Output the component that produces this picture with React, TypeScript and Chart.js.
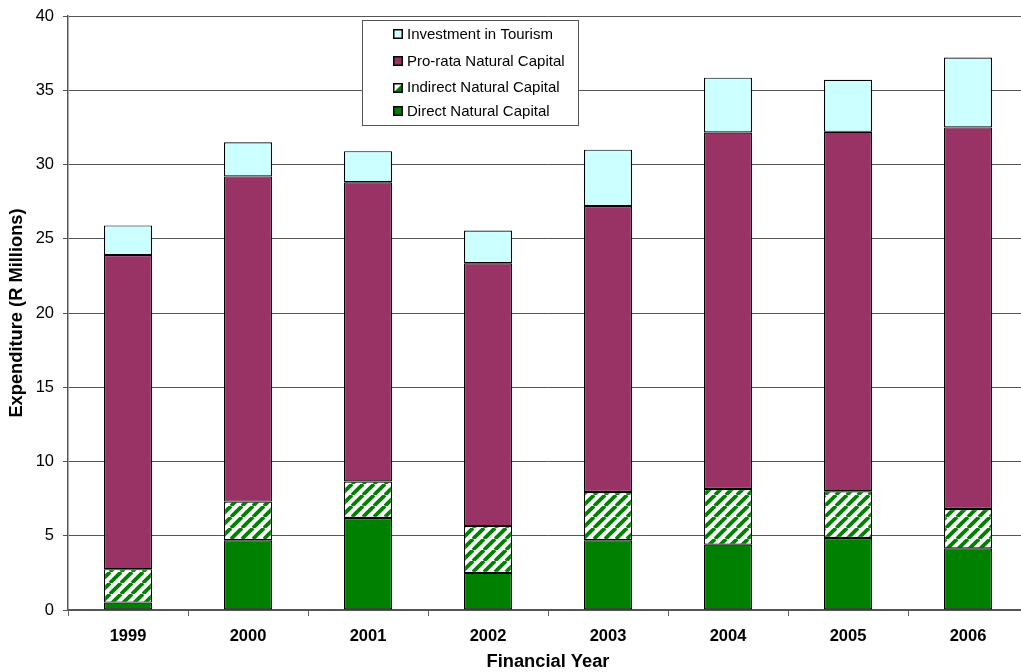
import React, { useEffect, useRef } from "react";
import { Chart, registerables } from "chart.js";

Chart.register(...registerables);

const years = ["1999", "2000", "2001", "2002", "2003", "2004", "2005", "2006"];
const directNatural = [0.5, 4.7, 6.2, 2.5, 4.7, 4.4, 4.85, 4.15];
const indirectNatural = [2.25, 2.6, 2.45, 3.15, 3.25, 3.75, 3.15, 2.65];
const proRataNatural = [21.15, 21.9, 20.15, 17.7, 19.25, 24.0, 24.2, 25.7];
const tourismInvestment = [2.0, 2.3, 2.1, 2.2, 3.8, 3.7, 3.5, 4.7];
const yTicks = [0, 5, 10, 15, 20, 25, 30, 35, 40];

const GREEN = "#008000";
const PLUM = "#993366";
const CYAN = "#CCFFFF";
const FONT = "'Liberation Sans', Arial, sans-serif";

function makeHatch(): CanvasPattern | string {
  const s = 11;
  const c = document.createElement("canvas");
  c.width = s;
  c.height = s;
  const ctx = c.getContext("2d");
  if (!ctx) return GREEN;
  ctx.fillStyle = "#ffffff";
  ctx.fillRect(0, 0, s, s);
  ctx.strokeStyle = GREEN;
  ctx.lineWidth = 3.8;
  for (const x0 of [-s, 0, s]) {
    ctx.beginPath();
    ctx.moveTo(x0, s);
    ctx.lineTo(x0 + s, 0);
    ctx.stroke();
  }
  const p = ctx.createPattern(c, "repeat");
  return p || GREEN;
}

const legendItems = [
  { label: "Investment in Tourism", kind: "cyan" },
  { label: "Pro-rata Natural Capital", kind: "plum" },
  { label: "Indirect Natural Capital", kind: "hatch" },
  { label: "Direct Natural Capital", kind: "green" },
];

const legendPlugin = {
  id: "boxLegend",
  afterDraw(chart: any) {
    const ctx = chart.ctx as CanvasRenderingContext2D;
    ctx.save();
    const bx = 362.5, by = 20.5, bw = 216, bh = 105;
    ctx.fillStyle = "#ffffff";
    ctx.fillRect(bx, by, bw, bh);
    ctx.strokeStyle = "#555555";
    ctx.lineWidth = 1;
    ctx.strokeRect(bx, by, bw, bh);
    const rows = [34, 61, 87.5, 111];
    ctx.font = `15px ${FONT}`;
    ctx.textBaseline = "middle";
    ctx.textAlign = "left";
    legendItems.forEach((it, i) => {
      const cy = rows[i];
      const mx = 393, my = Math.round(cy - 5), ms = 10;
      if (it.kind === "hatch") {
        ctx.fillStyle = "#ffffff";
        ctx.fillRect(mx, my, ms, ms);
        ctx.fillStyle = GREEN;
        ctx.beginPath();
        ctx.moveTo(mx + ms, my);
        ctx.lineTo(mx + ms, my + ms);
        ctx.lineTo(mx, my + ms);
        ctx.closePath();
        ctx.fill();
      } else {
        ctx.fillStyle = it.kind === "cyan" ? CYAN : it.kind === "plum" ? PLUM : GREEN;
        ctx.fillRect(mx, my, ms, ms);
      }
      ctx.strokeStyle = "#000000";
      ctx.lineWidth = 1.5;
      ctx.strokeRect(mx + 0.75, my + 0.75, ms - 1.5, ms - 1.5);
      ctx.fillStyle = "#000000";
      ctx.fillText(it.label, 407, cy + 0.5);
    });
    ctx.restore();
  },
};

export default function App() {
  const ref = useRef<HTMLCanvasElement | null>(null);

  useEffect(() => {
    document.body.style.margin = "0";
    const canvas = ref.current;
    if (!canvas) return;
    const hatch = makeHatch();
    const common = {
      borderColor: "#000000",
      borderWidth: 1.2,
      borderSkipped: false,
      barPercentage: 0.4,
      categoryPercentage: 1.0,
    };
    const chart = new Chart(canvas, {
      type: "bar",
      data: {
        labels: years,
        datasets: [
          { label: "Direct Natural Capital", data: directNatural, backgroundColor: GREEN, ...common },
          { label: "Indirect Natural Capital", data: indirectNatural, backgroundColor: hatch as any, ...common },
          { label: "Pro-rata Natural Capital", data: proRataNatural, backgroundColor: PLUM, ...common },
          { label: "Investment in Tourism", data: tourismInvestment, backgroundColor: CYAN, ...common },
        ],
      },
      options: {
        responsive: false,
        animation: false,
        devicePixelRatio: 1,
        layout: { padding: { top: 16, right: 2, left: 0, bottom: 0 } },
        plugins: {
          legend: { display: false },
          tooltip: { enabled: false },
        },
        scales: {
          x: {
            stacked: true,
            offset: true,
            grid: {
              offset: true,
              drawOnChartArea: false,
              drawTicks: true,
              tickLength: 6,
              color: "#666666",
            },
            border: { color: "#555555", width: 1.5 },
            ticks: {
              color: "#000000",
              font: { family: FONT, size: 16.5, weight: "bold" },
              padding: 11,
              maxRotation: 0,
            },
            title: {
              display: true,
              text: "Financial Year",
              color: "#000000",
              font: { family: FONT, size: 18.3, weight: "bold", lineHeight: 1.0 },
              padding: { top: 0, bottom: 1 },
            },
            afterFit: (scale: any) => {
              scale.height = 62;
            },
          },
          y: {
            stacked: true,
            min: 0,
            max: 40,
            afterBuildTicks: (scale: any) => {
              scale.ticks = yTicks.map((v) => ({ value: v }));
            },
            grid: { color: "#555555", tickLength: 5, lineWidth: 1 },
            border: { color: "#555555", width: 1.5 },
            ticks: {
              color: "#000000",
              font: { family: FONT, size: 16.5 },
              padding: 9,
            },
            title: {
              display: true,
              text: "Expenditure (R Millions)",
              color: "#000000",
              font: { family: FONT, size: 18.3, weight: "bold", lineHeight: 1.0 },
              padding: { top: 8, bottom: 0 },
            },
            afterFit: (scale: any) => {
              scale.width = 68;
              scale.paddingTop = 0;
              scale.paddingBottom = 0;
            },
          },
        },
      } as any,
      plugins: [legendPlugin],
    });
    return () => chart.destroy();
  }, []);

  return (
    <div style={{ position: "absolute", left: 0, top: 0, width: 1021, height: 672, overflow: "hidden", background: "#fff" }}>
      <canvas ref={ref} width={1030} height={672} style={{ width: 1030, height: 672, display: "block" }} />
    </div>
  );
}
